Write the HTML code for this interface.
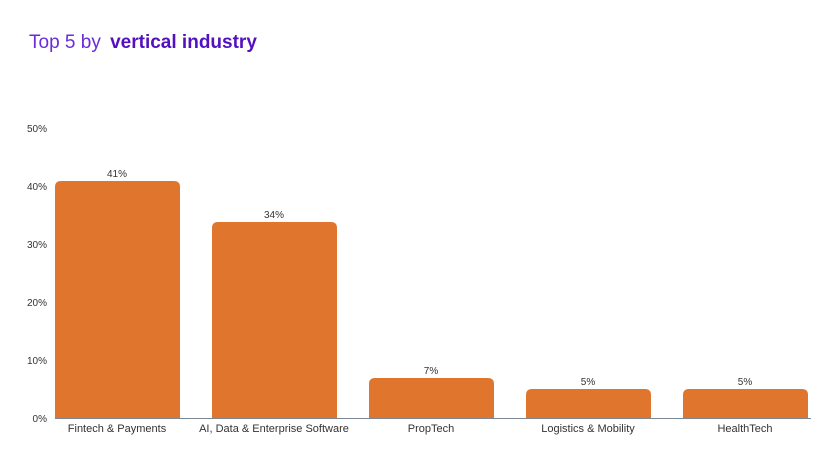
<!DOCTYPE html>
<html><head><style>
html,body{margin:0;padding:0;background:#fff;}
body{width:826px;height:460px;overflow:hidden;font-family:"Liberation Sans",sans-serif;}
</style></head><body>
<svg width="826" height="460" xmlns="http://www.w3.org/2000/svg" font-family="Liberation Sans, sans-serif">
<text x="29" y="48" font-size="19" fill="#6a2bd9">Top 5 by <tspan font-weight="bold" fill="#5310c0" dx="4">vertical industry</tspan></text>
<g font-size="10" fill="#333" text-anchor="end">
<text x="47" y="132">50%</text>
<text x="47" y="190">40%</text>
<text x="47" y="248">30%</text>
<text x="47" y="306">20%</text>
<text x="47" y="364">10%</text>
<text x="47" y="422">0%</text>
</g>
<g fill="#e0752e">
<path d="M55 418 V187 Q55 181 61 181 H174 Q180 181 180 187 V418Z"/>
<path d="M212 418 V228 Q212 222 218 222 H331 Q337 222 337 228 V418Z"/>
<path d="M369 418 V384 Q369 378 375 378 H488 Q494 378 494 384 V418Z"/>
<path d="M526 418 V395 Q526 389 532 389 H645 Q651 389 651 395 V418Z"/>
<path d="M683 418 V395 Q683 389 689 389 H802 Q808 389 808 395 V418Z"/>
</g>
<line x1="55" y1="418.5" x2="811" y2="418.5" stroke="#7b8794" stroke-width="1"/>
<g font-size="10" fill="#333" text-anchor="middle">
<text x="117" y="177">41%</text>
<text x="274" y="218">34%</text>
<text x="431" y="374">7%</text>
<text x="588" y="385">5%</text>
<text x="745" y="385">5%</text>
</g>
<g font-size="11" fill="#333" text-anchor="middle">
<text x="117" y="432">Fintech &amp; Payments</text>
<text x="274" y="432">AI, Data &amp; Enterprise Software</text>
<text x="431" y="432">PropTech</text>
<text x="588" y="432">Logistics &amp; Mobility</text>
<text x="745" y="432">HealthTech</text>
</g>
</svg>
</body></html>
